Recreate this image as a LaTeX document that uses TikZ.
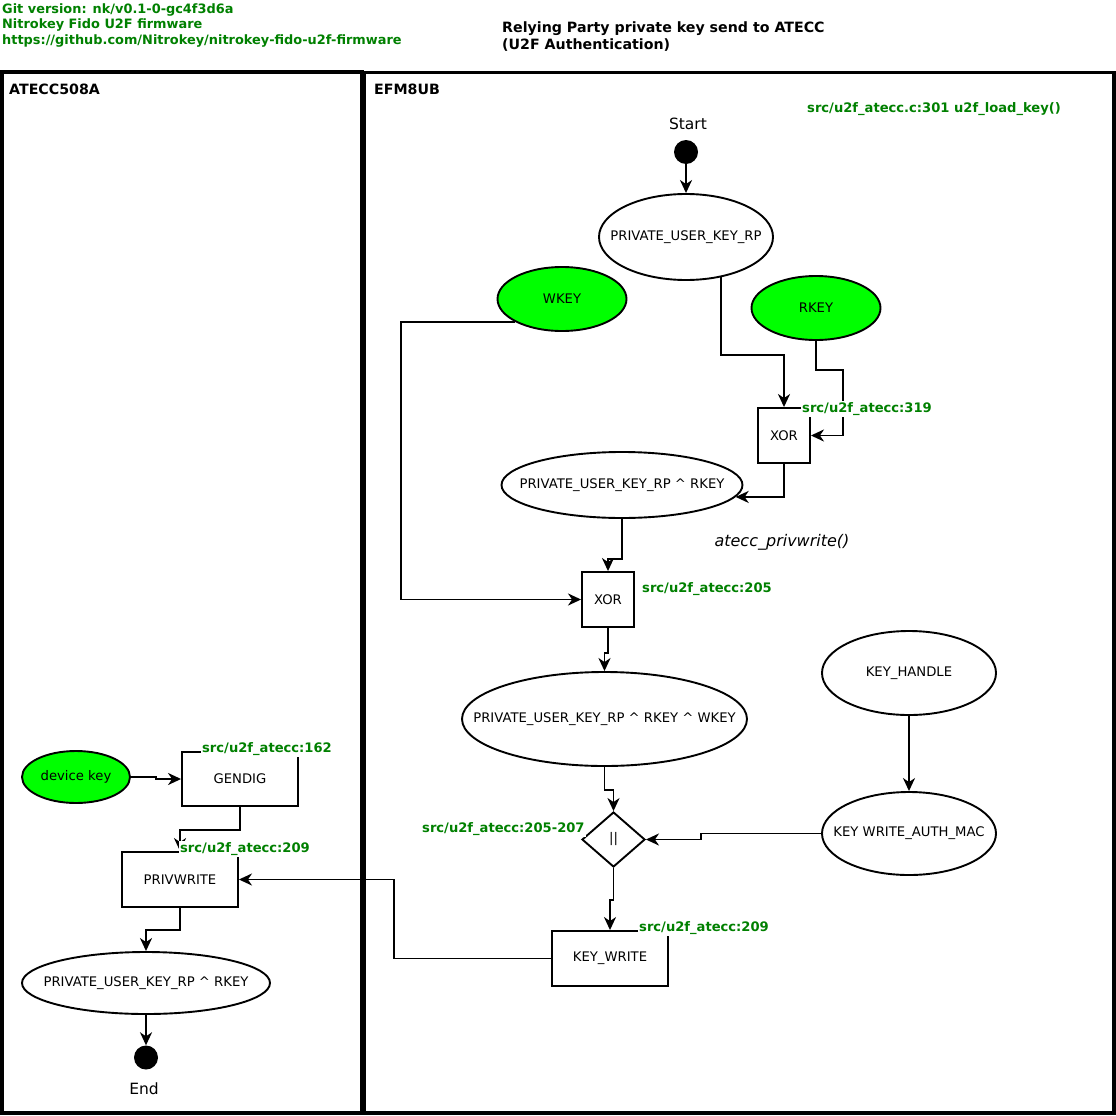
\documentclass[tikz,border=0pt]{standalone}
\usepackage{fontspec}
\setmainfont{DejaVu Sans}
\usetikzlibrary{shapes.geometric,arrows.meta,calc}
\definecolor{codegreen}{RGB}{0,128,0}
\definecolor{keygreen}{RGB}{0,255,0}
% zero-width text so that shapes take exactly their minimum size
\newcommand{\zw}[1]{\makebox[0pt]{#1}}

\begin{document}
\begin{tikzpicture}[x=1pt,y=-1pt,
  every node/.style={inner sep=0pt, font=\fontsize{13.2}{15}\selectfont},
  flow/.style={draw, line width=1.9pt, -{Stealth[length=13pt,width=12pt,inset=4pt]}},
  oval/.style={ellipse, draw, fill=white, line width=1.9pt},
  keyoval/.style={oval, fill=keygreen},
  opbox/.style={rectangle, draw, line width=1.9pt, fill=white},
  src/.style={font=\bfseries\fontsize{13.1}{15}\selectfont, text=codegreen, fill=white, inner sep=1pt, anchor=west},
  lane/.style={draw, line width=3.6pt},
  dot/.style={circle, fill=black, minimum size=24pt},
  bigtxt/.style={font=\fontsize{15.5}{18}\selectfont}
]
\useasboundingbox (0,0) rectangle (1116,1116);

% header
\node[anchor=north west, align=left, text=codegreen, font=\bfseries\fontsize{12.9}{15.5}\selectfont] (hdr) at (2,3)
  {Git version: nk/v0.1-0-gc4f3d6a\\Nitrokey Fido U2F firmware\\https://github.com/Nitrokey/nitrokey-fido-u2f-firmware};
\node[anchor=north west, align=left, font=\bfseries\fontsize{14.2}{17}\selectfont] (title) at (502,22)
  {Relying Party private key send to ATECC\\(U2F Authentication)};

% swimlanes
\draw[lane] (2,72) rectangle (362,1113);
\draw[lane] (364,72.5) rectangle (1114,1113);
\node[anchor=west, font=\bfseries\fontsize{14.2}{15}\selectfont] (laneA) at (9,89) {ATECC508A};
\node[anchor=west, font=\bfseries\fontsize{14.2}{15}\selectfont] (laneB) at (374,89) {EFM8UB};

% EFM8UB nodes
\node[dot] (start) at (686,152) {};
\node[bigtxt] (starttxt) at (688,124) {Start};
\node[oval, minimum width=174pt, minimum height=86pt] (pur) at (686,237) {\zw{PRIVATE\_USER\_KEY\_RP}};
\node[keyoval, minimum width=129pt, minimum height=64pt] (wkey) at (562,299) {\zw{WKEY}};
\node[keyoval, minimum width=129pt, minimum height=64pt] (rkey) at (816,308) {\zw{RKEY}};
\node[opbox, minimum width=52pt, minimum height=55pt] (xorA) at (784,435.5) {\zw{XOR}};
\node[oval, minimum width=241pt, minimum height=66pt] (purr) at (622,485) {\zw{PRIVATE\_USER\_KEY\_RP \textasciicircum{} RKEY}};
\node[font=\itshape\fontsize{16}{18}\selectfont] (privw) at (782,542) {atecc\_privwrite()};
\node[opbox, minimum width=52pt, minimum height=55pt] (xorB) at (608,599.5) {\zw{XOR}};
\node[oval, minimum width=285pt, minimum height=94pt] (purrw) at (604.5,719) {\zw{PRIVATE\_USER\_KEY\_RP \textasciicircum{} RKEY \textasciicircum{} WKEY}};
\node[oval, minimum width=174pt, minimum height=84pt] (kh) at (909,673) {\zw{KEY\_HANDLE}};
\node[oval, minimum width=174pt, minimum height=83pt] (kwam) at (909,833.5) {\zw{KEY WRITE\_AUTH\_MAC}};
\node[diamond, draw, fill=white, line width=1.9pt, minimum width=63pt, minimum height=55pt] (cat) at (613.5,839.5) {\zw{||}};
\node[opbox, minimum width=116pt, minimum height=55pt] (kw) at (610,958.5) {\zw{KEY\_WRITE}};

% ATECC508A nodes
\node[keyoval, minimum width=108pt, minimum height=52pt] (devkey) at (76,777) {\zw{device key}};
\node[opbox, minimum width=116pt, minimum height=54pt] (gendig) at (240,779) {\zw{GENDIG}};
\node[opbox, minimum width=116pt, minimum height=55pt] (privwrite) at (180,879.5) {\zw{PRIVWRITE}};
\node[oval, minimum width=248pt, minimum height=62pt] (purrL) at (146,983) {\zw{PRIVATE\_USER\_KEY\_RP \textasciicircum{} RKEY}};
\node[dot] (end) at (146,1057.5) {};
\node[bigtxt] (endtxt) at (144,1089) {End};

% connectors
\draw[flow] (start) -- (pur);
\draw[flow] (pur.-49.4) -- ++(0,78) -| (xorA.north);
\draw[flow] (rkey.south) -- ++(0,29) -| ($(xorA.east)+(32,0)$) -- (xorA.east);
\draw[flow] (xorA.south) |- (purr.-6.1);
\draw[flow] (purr.south) -- ++(0,40) -| (xorB.north);
\draw[flow] (wkey.-154) -| ($(xorB.west)+(-180,0)$) -- (xorB.west);
\draw[flow] (xorB.south) -- ++(0,25) -| (purrw.north);
\draw[flow] (purrw.south) -- ++(0,23) -| (cat.north);
\draw[flow] (kh) -- (kwam);
\draw[flow] (kwam.west) -- ++(-120,0) |- (cat.east);
\draw[flow] (cat.south) -- ++(0,32) -| (kw.north);
\draw[flow] (kw.west) -- ++(-157,0) |- (privwrite.east);
\draw[flow] (devkey.east) -- ++(25,0) |- (gendig.west);
\draw[flow] (gendig.south) -- ++(0,23) -| (privwrite.north);
\draw[flow] (privwrite.south) -- ++(0,22) -| (purrL.north);
\draw[flow] (purrL.south) -- (end.north);

% source references
\node[src] (lload) at (806,109) {src/u2f\_atecc.c:301 u2f\_load\_key()};
\node[src] (l319) at (801,409) {src/u2f\_atecc:319};
\node[src] (l205) at (641,589) {src/u2f\_atecc:205};
\node[src] (l205b) at (421,829) {src/u2f\_atecc:205-207};
\node[src] (l209b) at (638,928) {src/u2f\_atecc:209};
\node[src] (l162) at (201,749) {src/u2f\_atecc:162};
\node[src] (l209a) at (179,849) {src/u2f\_atecc:209};
\end{tikzpicture}
\end{document}
